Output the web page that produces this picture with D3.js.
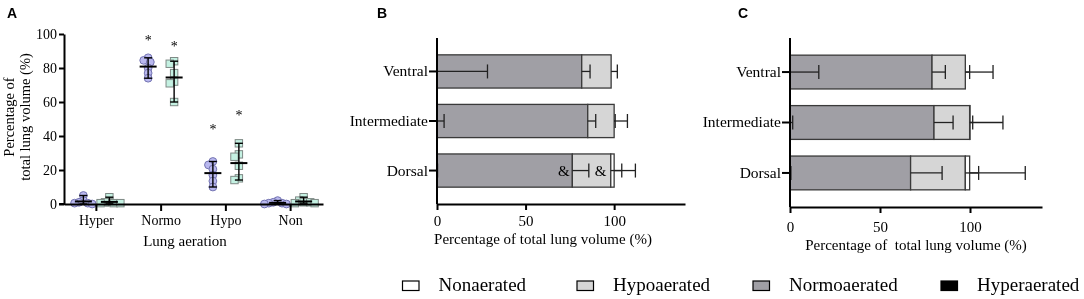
<!DOCTYPE html>
<html>
<head>
<meta charset="utf-8">
<script src="https://cdn.jsdelivr.net/npm/d3@7"></script>
<style>
  html, body { margin: 0; padding: 0; background: #fff; }
  svg { display: block; will-change: transform; }
  text { font-family: "Liberation Serif", "Times New Roman", serif; fill: #000; }
  .panel-letter { font-family: "Liberation Sans", Arial, sans-serif; font-weight: bold; font-size: 14px; }
  .axis path, .axis line { stroke: #000; stroke-width: 2; }
</style>
</head>
<body>
<svg id="chart" width="1084" height="299"></svg>
<script>
// ---- panel A data (individual animals, % of total lung volume) ----
const aCategories = ["Hyper", "Normo", "Hypo", "Non"];
const aGroupCircles = [
  [5, 2, 1, 0.5, 0.5, 0],
  [86, 84.5, 83.5, 80, 77, 74],
  [25, 23, 20.5, 17, 13.5, 10],
  [2, 1, 0.5, 0.5, 0, 0]
];
const aGroupSquares = [
  [4, 1, 1, 0.5, 0.5, 0.5],
  [84, 82.5, 77, 72, 71, 60],
  [35.7, 29.2, 27.8, 22.5, 15.1, 14.1],
  [4, 2, 1, 1, 0.5, 0.5]
];
const aStars = [
  { cat: "Normo", group: 0, value: 97 },
  { cat: "Normo", group: 1, value: 93.5 },
  { cat: "Hypo", group: 0, value: 44.5 },
  { cat: "Hypo", group: 1, value: 53 }
];
const aYTicks = [0, 20, 40, 60, 80, 100];

// ---- panels B and C (stacked means + SD) ----
const regions = ["Ventral", "Intermediate", "Dorsal"];
const stackKeys = ["Hyperaerated", "Normoaerated", "Hypoaerated", "Nonaerated"];
const bMeans = [[0, 81.7, 16.6, 0], [0, 85.1, 14.9, 0], [0, 76.4, 21.7, 1.9]];
const bSDs   = [[28.5, 4.7, 3.5, 0], [4, 4.5, 0.6, 7.5], [0.3, 9.3, 6.2, 12]];
const cMeans = [[0, 78.9, 18.5, 0], [0, 80, 19.8, 0.2], [0, 67, 30.4, 2.4]];
const cSDs   = [[16, 7.4, 2.4, 15.4], [1.5, 10.6, 1.7, 18.3], [0.5, 17.5, 7.4, 30.9]];
const bMarks = [{ region: "Dorsal", value: 71.6 }, { region: "Dorsal", value: 92.3 }];
const barTicks = [0, 50, 100];

const legendOrder = ["Nonaerated", "Hypoaerated", "Normoaerated", "Hyperaerated"];
const fills = {
  Hyperaerated: "#000000",
  Normoaerated: "#a09fa5",
  Hypoaerated: "#d6d6d6",
  Nonaerated: "#ffffff"
};

const svg = d3.select("#chart");

function styleTicks(g, size) {
  g.selectAll(".tick text")
    .attr("font-family", "Liberation Serif, Times New Roman, serif")
    .attr("font-size", size)
    .attr("fill", "#000");
  g.attr("font-family", null).attr("font-size", null);
}

// ================= Panel A =================
(function panelA() {
  const g = svg.append("g");
  const x = d3.scaleBand().domain(aCategories).range([64, 323]);
  const y = d3.scaleLinear().domain([0, 100]).range([204, 34]);
  const groupOffset = [-13, 13];

  // simple deterministic swarm so overlapping points spread sideways
  function swarm(values, cx) {
    const placed = [];
    const sorted = values.slice().sort((a, b) => b - a);
    sorted.forEach(v => {
      const py = y(v);
      for (let k = 0; k < 30; k++) {
        const off = (k === 0 ? 0 : (k % 2 ? -1 : 1) * Math.ceil(k / 2)) * 2.2;
        const px = cx + off;
        const ok = placed.every(p => Math.hypot(p.x - px, p.y - py) >= 4.4);
        if (ok) { placed.push({ x: px, y: py, v }); break; }
      }
    });
    return placed;
  }

  [aGroupCircles, aGroupSquares].forEach((groupData, gi) => {
    aCategories.forEach((cat, ci) => {
      const vals = groupData[ci];
      const cx = x(cat) + x.bandwidth() / 2 + groupOffset[gi];
      const pts = swarm(vals, cx);
      if (gi === 0) {
        g.selectAll(null).data(pts).join("circle")
          .attr("cx", d => d.x).attr("cy", d => d.y).attr("r", 3.9)
          .attr("fill", "#b9b8ef").attr("stroke", "#7373b0").attr("stroke-width", 1);
      } else {
        g.selectAll(null).data(pts).join("rect")
          .attr("x", d => d.x - 3.7).attr("y", d => d.y - 3.7)
          .attr("width", 7.4).attr("height", 7.4)
          .attr("fill", "#c4f1e2").attr("stroke", "#7f8a86").attr("stroke-width", 1);
      }
      const [lo, hi] = d3.extent(vals);
      const m = d3.mean(vals);
      g.append("line").attr("x1", cx).attr("x2", cx).attr("y1", y(lo)).attr("y2", y(hi))
        .attr("stroke", "#000").attr("stroke-width", 1.4);
      [lo, hi].forEach(v => g.append("line")
        .attr("x1", cx - 4).attr("x2", cx + 4).attr("y1", y(v)).attr("y2", y(v))
        .attr("stroke", "#000").attr("stroke-width", 1.4));
      g.append("line").attr("x1", cx - 8.5).attr("x2", cx + 8.5).attr("y1", y(m)).attr("y2", y(m))
        .attr("stroke", "#000").attr("stroke-width", 2);
    });
  });

  g.selectAll(null).data(aStars).join("text")
    .attr("x", d => x(d.cat) + x.bandwidth() / 2 + groupOffset[d.group])
    .attr("y", d => y(d.value) + 6)
    .attr("text-anchor", "middle")
    .attr("font-size", 14)
    .text("*");

  g.append("line").attr("x1", 59).attr("x2", 65).attr("y1", 204).attr("y2", 204)
    .attr("stroke", "#000").attr("stroke-width", 2);
  const ya = g.append("g").attr("class", "axis").attr("transform", "translate(64,0)")
    .call(d3.axisLeft(y).tickValues(aYTicks).tickSize(5).tickSizeOuter(0).tickPadding(2));
  styleTicks(ya, 14);
  const xa = g.append("g").attr("class", "axis").attr("transform", "translate(0,204)")
    .call(d3.axisBottom(x).tickSize(7).tickSizeOuter(0).tickPadding(4));
  styleTicks(xa, 14);

  g.append("text").attr("x", 185).attr("y", 246).attr("text-anchor", "middle")
    .attr("font-size", 15).text("Lung aeration");
  const yt = g.append("text").attr("transform", "translate(0,117) rotate(-90)")
    .attr("text-anchor", "middle").attr("font-size", 14.5);
  yt.append("tspan").attr("x", 0).attr("y", 14).text("Percentage of");
  yt.append("tspan").attr("x", 0).attr("y", 30).text("total lung volume (%)");

  svg.append("text").attr("class", "panel-letter").attr("x", 7).attr("y", 18).text("A");
})();

// ================= Panels B and C =================
function stackedPanel(opt) {
  const g = svg.append("g");
  const x = d3.scaleLinear().domain([0, 140]).range([opt.x0, opt.x1]);
  const y = d3.scaleBand().domain(regions).range([opt.yTop, opt.yBottom])
    .paddingInner(0.33).paddingOuter(0.34);

  const segs = [], errs = [];
  regions.forEach((r, ri) => {
    let cum = 0;
    stackKeys.forEach((k, ki) => {
      const v = opt.means[ri][ki];
      const sd = opt.sds[ri][ki];
      const start = cum, end = cum + v;
      if (v > 0) segs.push({ region: r, key: k, start, end });
      if (sd > 0) errs.push({ region: r, from: end, to: end + sd });
      cum = end;
    });
  });

  g.selectAll(null).data(segs).join("rect")
    .attr("x", d => x(d.start)).attr("width", d => x(d.end) - x(d.start))
    .attr("y", d => y(d.region)).attr("height", y.bandwidth())
    .attr("fill", d => fills[d.key]).attr("stroke", "#3a3a3a").attr("stroke-width", 1.3);

  const cy = d => y(d.region) + y.bandwidth() / 2;
  g.selectAll(null).data(errs).join("line")
    .attr("x1", d => x(d.from)).attr("x2", d => x(d.to))
    .attr("y1", cy).attr("y2", cy)
    .attr("stroke", "#222").attr("stroke-width", 1.3);
  g.selectAll(null).data(errs).join("line")
    .attr("x1", d => x(d.to)).attr("x2", d => x(d.to))
    .attr("y1", d => cy(d) - 7).attr("y2", d => cy(d) + 7)
    .attr("stroke", "#222").attr("stroke-width", 1.3);

  if (opt.marks) {
    g.selectAll(null).data(opt.marks).join("text")
      .attr("x", d => x(d.value)).attr("y", d => cy(d) + 5)
      .attr("text-anchor", "middle").attr("font-size", 15).text("&");
  }

  const ya = g.append("g").attr("class", "axis").attr("transform", `translate(${opt.x0},0)`)
    .call(d3.axisLeft(y).tickSize(8).tickSizeOuter(0).tickPadding(1));
  ya.select(".domain").attr("d", `M0,${opt.yTop}V${opt.yBottom}`);
  styleTicks(ya, 15.5);
  const xa = g.append("g").attr("class", "axis").attr("transform", `translate(0,${opt.yBottom})`)
    .call(d3.axisBottom(x).tickValues(barTicks).tickSize(6).tickSizeOuter(0).tickPadding(opt.tickPad));
  styleTicks(xa, 15);

  g.append("text").attr("x", opt.titleX).attr("y", opt.titleY).attr("text-anchor", "middle")
    .attr("font-size", 15).attr("xml:space", "preserve").text(opt.title);

  svg.append("text").attr("class", "panel-letter")
    .attr("x", opt.letterX).attr("y", 18).text(opt.letter);
}

stackedPanel({
  letter: "B", letterX: 377,
  x0: 437, x1: 685, yTop: 38, yBottom: 204,
  means: bMeans, sds: bSDs, marks: bMarks,
  tickPad: 5, title: "Percentage of total lung volume (%)", titleX: 543, titleY: 244
});
stackedPanel({
  letter: "C", letterX: 738,
  x0: 790, x1: 1042, yTop: 38, yBottom: 207,
  means: cMeans, sds: cSDs,
  tickPad: 8, title: "Percentage of  total lung volume (%)", titleX: 916, titleY: 250
});

// ================= Legend =================
const legendX = [402.5, 577, 753, 941];
const lg = svg.append("g").selectAll("g").data(legendOrder).join("g")
  .attr("transform", (d, i) => `translate(${legendX[i]},281)`);
lg.append("rect").attr("width", 16.5).attr("height", 9.5)
  .attr("fill", d => fills[d]).attr("stroke", "#000").attr("stroke-width", 1.2);
lg.append("text").attr("x", 36).attr("y", 9.5).attr("font-size", 19).text(d => d);
</script>
</body>
</html>
